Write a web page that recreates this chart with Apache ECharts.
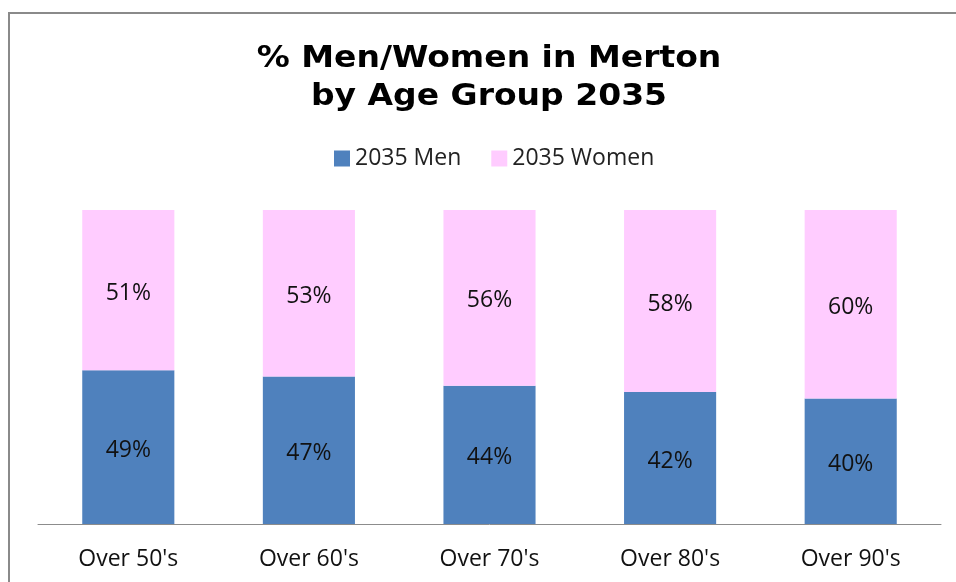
<!DOCTYPE html>
<html>
<head>
<meta charset="utf-8">
<script src="https://cdn.jsdelivr.net/npm/echarts@6/dist/echarts.min.js"></script>
<style>
  html, body { margin: 0; padding: 0; background: #fff; }
  #chart { width: 956px; height: 582px; }
</style>
</head>
<body>
<div id="chart"></div>
<script>
// age groups along the x axis
const categories = ["Over 50's", "Over 60's", "Over 70's", "Over 80's", "Over 90's"];
// share of each group in 2035, percent
const menValues = [49, 47, 44, 42, 40];
const womenValues = [51, 53, 56, 58, 60];

const labelFont = "'Open Sans', sans-serif";

const chart = echarts.init(document.getElementById("chart"));

chart.setOption({
  backgroundColor: "#fff",
  animation: false,
  legend: {
    top: 142,
    left: 329,
    itemWidth: 16,
    itemHeight: 16,
    itemGap: 30,
    icon: "rect",
    textStyle: { fontFamily: labelFont, fontSize: 23, color: "#222" },
    data: ["2035 Men", "2035 Women"]
  },
  grid: { left: 38, right: 15, top: 210, bottom: 58 },
  xAxis: {
    type: "category",
    data: categories,
    axisTick: { show: false },
    axisLine: { lineStyle: { color: "#8c8c8c", width: 1 } },
    axisLabel: { fontFamily: labelFont, fontSize: 23, color: "#111", margin: 24 }
  },
  yAxis: {
    type: "value",
    min: 0,
    max: 100,
    show: false
  },
  graphic: [
    {
      // chart frame, right and bottom edges fall outside the picture
      type: "rect",
      shape: { x: 9, y: 13, width: 1000, height: 700 },
      style: { fill: null, stroke: "#8a8a8a", lineWidth: 2 },
      silent: true
    },
    {
      type: "text",
      x: 489,
      y: 40,
      scaleX: 1.1,
      style: {
        text: "% Men/Women in Merton\nby Age Group 2035",
        align: "center",
        font: "bold 30px 'DejaVu Sans', Verdana, sans-serif",
        lineHeight: 38,
        fill: "#000"
      },
      silent: true
    }
  ],
  series: [
    {
      name: "2035 Men",
      type: "bar",
      stack: "all",
      barWidth: "51%",
      data: menValues,
      itemStyle: { color: "#4F81BD" },
      label: {
        show: true, position: "inside", formatter: "{c}%", offset: [0, 3],
        fontFamily: labelFont, fontSize: 23, color: "#111"
      }
    },
    {
      name: "2035 Women",
      type: "bar",
      stack: "all",
      barWidth: "51%",
      data: womenValues,
      itemStyle: { color: "#FFCCFF" },
      label: {
        show: true, position: "inside", formatter: "{c}%", offset: [0, 3],
        fontFamily: labelFont, fontSize: 23, color: "#111"
      }
    }
  ]
});
</script>
</body>
</html>
